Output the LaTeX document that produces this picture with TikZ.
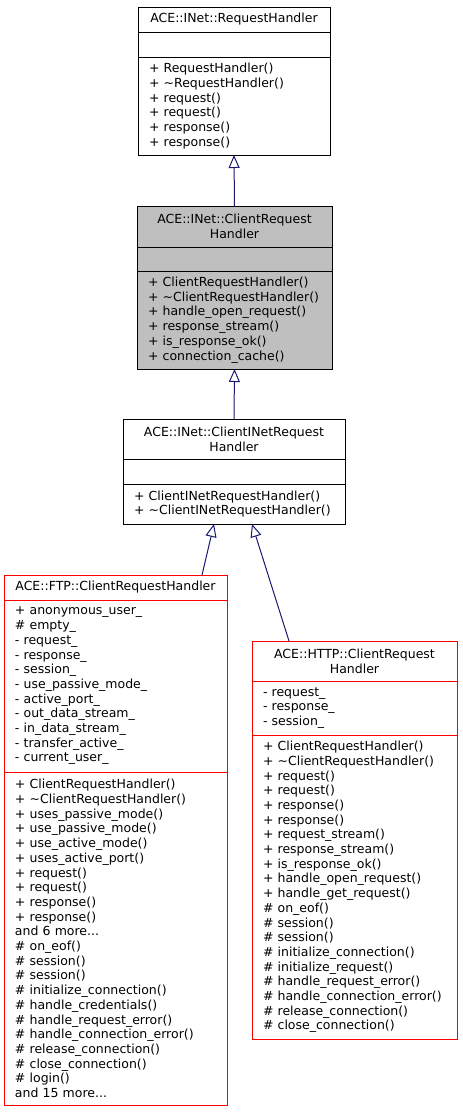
\documentclass[tikz,border=0pt]{standalone}
\usepackage{fontspec}
\setmainfont{DejaVu Sans}
\usetikzlibrary{positioning,arrows.meta}
\definecolor{edgeblue}{HTML}{191970}
\definecolor{selgray}{HTML}{BFBFBF}
\begin{document}
\begin{tikzpicture}[x=1pt, y=-1pt,
    font=\fontsize{12.5}{14.7}\selectfont,
    part/.style={draw, line width=1pt, inner xsep=11pt, inner ysep=0pt, outer sep=0pt, align=left, fill=white},
    head/.style={part, align=center},
    inherit/.style={edgeblue, line width=1pt, -{Triangle[open, length=13pt, width=11pt]}}]
\useasboundingbox (0,0) rectangle (463,1112);

% ACE::INet::RequestHandler
\node (rh) [head, text width=170pt, minimum height=25pt, anchor=north] at (234,7) {ACE::INet::RequestHandler};
\node (rha) [part, text width=170pt, minimum height=25pt, below=0pt of rh] {};
\node (rhm) [part, text width=170pt, minimum height=98pt, below=0pt of rha] {+ RequestHandler()\\+ \textasciitilde RequestHandler()\\+ request()\\+ request()\\+ response()\\+ response()};

% ACE::INet::ClientRequestHandler
\node (crh) [head, fill=selgray, text width=173pt, minimum height=41pt, anchor=north] at (234.5,206) {ACE::INet::ClientRequest\\Handler};
\node (crha) [part, fill=selgray, text width=173pt, minimum height=24pt, below=0pt of crh] {};
\node (crhm) [part, fill=selgray, text width=173pt, minimum height=98pt, below=0pt of crha] {+ ClientRequestHandler()\\+ \textasciitilde ClientRequestHandler()\\+ handle\_open\_request()\\+ response\_stream()\\+ is\_response\_ok()\\+ connection\_cache()};

% ACE::INet::ClientINetRequestHandler
\node (cin) [head, text width=200pt, minimum height=40pt, anchor=north] at (234,419) {ACE::INet::ClientINetRequest\\Handler};
\node (cina) [part, text width=200pt, minimum height=25pt, below=0pt of cin] {};
\node (cinm) [part, text width=200pt, minimum height=40pt, below=0pt of cina] {+ ClientINetRequestHandler()\\+ \textasciitilde ClientINetRequestHandler()};

% ACE::FTP::ClientRequestHandler
\begin{scope}[every node/.append style={draw=red}]
\node (ftp) [head, text width=201pt, minimum height=25pt, anchor=north] at (115.5,575) {ACE::FTP::ClientRequestHandler};
\node (ftpa) [part, text width=201pt, minimum height=172pt, below=0pt of ftp] {+ anonymous\_user\_\\\# empty\_\\- request\_\\- response\_\\- session\_\\- use\_passive\_mode\_\\- active\_port\_\\- out\_data\_stream\_\\- in\_data\_stream\_\\- transfer\_active\_\\- current\_user\_};
\node (ftpm) [part, text width=201pt, minimum height=333pt, below=0pt of ftpa] {+ ClientRequestHandler()\\+ \textasciitilde ClientRequestHandler()\\+ uses\_passive\_mode()\\+ use\_passive\_mode()\\+ use\_active\_mode()\\+ uses\_active\_port()\\+ request()\\+ request()\\+ response()\\+ response()\\and 6 more...\\\# on\_eof()\\\# session()\\\# session()\\\# initialize\_connection()\\\# handle\_credentials()\\\# handle\_request\_error()\\\# handle\_connection\_error()\\\# release\_connection()\\\# close\_connection()\\\# login()\\and 15 more...};

% ACE::HTTP::ClientRequestHandler
\node (http) [head, text width=183pt, minimum height=40pt, anchor=north] at (354.5,641) {ACE::HTTP::ClientRequest\\Handler};
\node (httpa) [part, text width=183pt, minimum height=54pt, below=0pt of http] {- request\_\\- response\_\\- session\_};
\node (httpm) [part, text width=183pt, minimum height=304pt, below=0pt of httpa] {+ ClientRequestHandler()\\+ \textasciitilde ClientRequestHandler()\\+ request()\\+ request()\\+ response()\\+ response()\\+ request\_stream()\\+ response\_stream()\\+ is\_response\_ok()\\+ handle\_open\_request()\\+ handle\_get\_request()\\\# on\_eof()\\\# session()\\\# session()\\\# initialize\_connection()\\\# initialize\_request()\\\# handle\_request\_error()\\\# handle\_connection\_error()\\\# release\_connection()\\\# close\_connection()};
\end{scope}

\draw[inherit] (crh.north) -- (rhm.south);
\draw[inherit] (cin.north) -- (crhm.south);
\draw[inherit] ([xshift=86.5pt]ftp.north) -- ([xshift=-20pt]cinm.south);
\draw[inherit] ([xshift=-65.5pt]http.north) -- ([xshift=18pt]cinm.south);
\end{tikzpicture}
\end{document}
